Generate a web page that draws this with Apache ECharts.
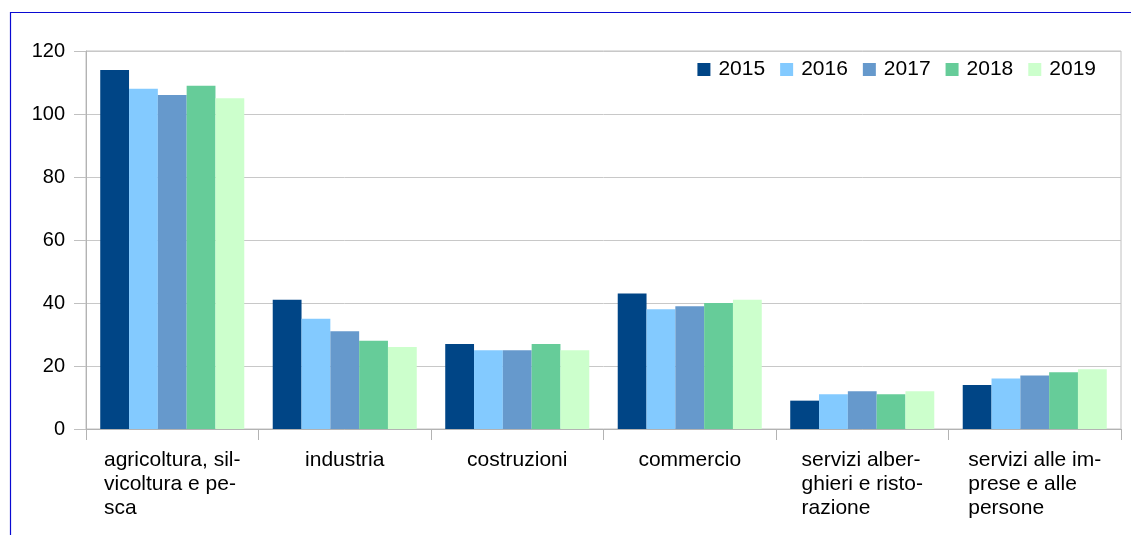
<!DOCTYPE html>
<html>
<head>
<meta charset="utf-8">
<script src="https://cdn.jsdelivr.net/npm/echarts@6/dist/echarts.min.js"></script>
<style>
  html, body { margin: 0; padding: 0; background: #fff; }
  #chart { width: 1131px; height: 535px; }
</style>
</head>
<body>
<div id="chart"></div>
<script>
// categories as they are wrapped in the picture
const categories = [
  'agricoltura, sil-\nvicoltura e pe-\nsca',
  'industria',
  'costruzioni',
  'commercio',
  'servizi alber-\nghieri e risto-\nrazione',
  'servizi alle im-\nprese e alle\npersone'
]
const years = ['2015', '2016', '2017', '2018', '2019']
const v2015 = [114, 41, 27, 43, 9, 14]
const v2016 = [108, 35, 25, 38, 11, 16]
const v2017 = [106, 31, 25, 39, 12, 17]
const v2018 = [109, 28, 27, 40, 11, 18]
const v2019 = [105, 26, 25, 41, 12, 19]
const yTicks = [0, 20, 40, 60, 80, 100, 120]

const colors = ['#004586', '#83caff', '#6699cc', '#66cc99', '#ccffcc']
const values = [v2015, v2016, v2017, v2018, v2019]
const font = 'Liberation Sans, Arial, sans-serif'

const chart = echarts.init(document.getElementById('chart'), null, { renderer: 'canvas' })
chart.setOption({
  animation: false,
  color: colors,
  textStyle: { fontFamily: font },
  graphic: [{
    type: 'polyline',
    shape: { points: [[10.5, 535], [10.5, 12.5], [1131, 12.5]] },
    style: { stroke: '#0a0ad2', lineWidth: 1.2, fill: null }
  }],
  grid: {
    left: 86, right: 10, top: 51, bottom: 106,
    show: true, borderColor: '#c0c0c0', borderWidth: 1
  },
  legend: {
    data: years,
    right: 30, top: 54,
    icon: 'rect', itemWidth: 13, itemHeight: 13, itemGap: 15,
    textStyle: { fontSize: 21, color: '#000', fontFamily: font, lineHeight: 21, padding: [0, 0, 0, 3] }
  },
  xAxis: {
    type: 'category',
    data: categories,
    axisLine: { lineStyle: { color: '#b3b3b3' } },
    axisTick: { show: true, length: 11, alignWithLabel: false, lineStyle: { color: '#b3b3b3' } },
    axisLabel: {
      interval: 0,
      margin: 19,
      color: '#000',
      fontSize: 21,
      lineHeight: 24,
      fontFamily: font,
      formatter: v => v.split('\n').map(s => '{l|' + s + '}').join('\n'),
      rich: { l: { align: 'left', fontSize: 21, lineHeight: 24, color: '#000', fontFamily: font } }
    },
    splitLine: { show: false }
  },
  yAxis: {
    type: 'value',
    min: yTicks[0],
    max: yTicks[yTicks.length - 1],
    interval: yTicks[1] - yTicks[0],
    axisLine: { show: true, lineStyle: { color: '#b3b3b3' } },
    axisTick: { show: true, length: 12, lineStyle: { color: '#c0c0c0' } },
    axisLabel: { margin: 21, color: '#000', fontSize: 20, fontFamily: font },
    splitLine: { lineStyle: { color: '#c8c8c8' } }
  },
  series: years.map((y, i) => ({
    name: y,
    type: 'bar',
    data: values[i],
    barGap: 0,
    barCategoryGap: '16.5%',
    itemStyle: { color: colors[i] }
  }))
})
</script>
</body>
</html>
